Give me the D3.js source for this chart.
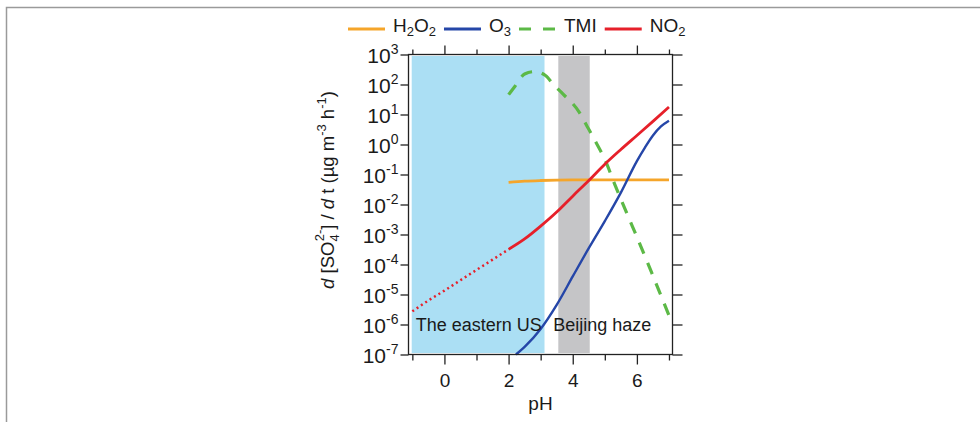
<!DOCTYPE html>
<html>
<head>
<meta charset="utf-8">
<script src="https://cdn.jsdelivr.net/npm/d3@7"></script>
<style>
  body { margin: 0; background: #fff; }
  svg { display: block; font-family: "Liberation Sans", Arial, sans-serif; }
  .axis path { display: none; }
  .axis line { stroke: #222; stroke-width: 1.3; }
</style>
</head>
<body>
<div id="chart"></div>
<script>
// pH values and sulfate production rates (ug m-3 h-1)
var phNO2Dotted = [-1.0, -0.5, 0, 0.5, 1.0, 1.5, 2.0];
var rateNO2Dotted = [2.75e-6, 6.3e-6, 1.35e-5, 3.0e-5, 6.6e-5, 1.45e-4, 3.2e-4];

var phNO2 = [2.0, 2.5, 3.0, 3.5, 4.0, 4.5, 5.0, 5.5, 6.0, 6.5, 7.0];
var rateNO2 = [3.2e-4, 7.1e-4, 1.9e-3, 5.6e-3, 1.9e-2, 6.3e-2, 0.22, 0.68, 2.0, 5.9, 17.8];

var phO3 = [2.23, 2.5, 3.0, 3.5, 4.0, 4.5, 5.0, 5.5, 6.0, 6.25, 6.5, 6.75, 7.0];
var rateO3 = [1.0e-7, 1.8e-7, 7.1e-7, 4.5e-6, 4.0e-5, 3.5e-4, 2.8e-3, 2.5e-2, 0.28, 0.79, 2.0, 4.0, 6.2];

var phH2O2 = [2.0, 2.5, 3.0, 3.5, 4.0, 5.0, 6.0, 7.0];
var rateH2O2 = [0.055, 0.060, 0.063, 0.065, 0.066, 0.066, 0.066, 0.066];

var phTMI = [2.0, 2.2, 2.5, 2.8, 3.15, 3.4, 3.7, 4.2, 4.45, 4.7, 5.0, 5.3, 5.5, 5.75, 6.0, 6.5, 7.0];
var rateTMI = [46, 87, 224, 269, 200, 100, 48, 12, 4.0, 1.32, 0.32, 0.05, 0.015, 3.5e-3, 8.3e-4, 4.2e-5, 2.0e-6];

var legendNames = ["H2O2", "O3", "TMI", "NO2"];
var yExponents = [3, 2, 1, 0, -1, -2, -3, -4, -5, -6, -7];
var xTicks = [-1, 0, 1, 2, 3, 4, 5, 6, 7];
var xLabels = [0, 2, 4, 6];

var regionNames = ["The eastern US", "Beijing haze"];
var regionBands = [[-1.02, 3.12], [3.55, 4.53]];

var W = 980, H = 422;
var plotL = 408.5, plotR = 672.5, plotT = 54.5, plotB = 354.5;

var svg = d3.select("#chart").append("svg")
    .attr("width", W)
    .attr("height", H);

// figure border (top and left edges only)
svg.append("path")
    .attr("d", "M6.5,422 V7.5 H980")
    .attr("fill", "none")
    .attr("stroke", "#9a9a9a")
    .attr("stroke-width", 1.5);

var x = d3.scaleLinear().domain([-1.12, 7.11]).range([plotL, plotR]);
var y = d3.scaleLog().domain([1e-7, 1e3]).range([plotB, plotT]);

// shaded pH regions
var bandColors = ["#abdff4", "#c5c5c7"];
svg.selectAll("rect.band")
    .data(regionBands)
    .enter()
    .append("rect")
    .attr("class", "band")
    .attr("x", d => x(d[0]))
    .attr("width", d => x(d[1]) - x(d[0]))
    .attr("y", plotT + 1.5)
    .attr("height", plotB - plotT - 3)
    .attr("fill", (d, i) => bandColors[i]);

function pairs(px, py) {
    return px.map(function(p, i) { return [p, py[i]]; });
}

var line = d3.line()
    .x(d => x(d[0]))
    .y(d => y(d[1]))
    .curve(d3.curveMonotoneX);

var series = [
    { data: pairs(phH2O2, rateH2O2), color: "#f5a52a", width: 2.8, dash: null },
    { data: pairs(phO3, rateO3), color: "#2546a8", width: 2.4, dash: null },
    { data: pairs(phTMI, rateTMI), color: "#5cb946", width: 3.2, dash: "12,10" },
    { data: pairs(phNO2, rateNO2), color: "#e6202a", width: 2.8, dash: null },
    { data: pairs(phNO2Dotted, rateNO2Dotted), color: "#e6202a", width: 2.5, dash: "2,3.2" }
];

svg.selectAll("path.series")
    .data(series)
    .enter()
    .append("path")
    .attr("class", "series")
    .attr("d", d => line(d.data))
    .attr("fill", "none")
    .attr("stroke", d => d.color)
    .attr("stroke-width", d => d.width)
    .attr("stroke-dasharray", d => d.dash);

// region labels
svg.selectAll("text.region")
    .data(regionNames)
    .enter()
    .append("text")
    .attr("class", "region")
    .attr("x", (d, i) => i === 0 ? x(regionBands[0][0]) + 4 : x(regionBands[1][0]) - 5)
    .attr("y", 331)
    .attr("font-size", 18)
    .attr("fill", "#1a1a1a")
    .text(d => d);

// plot frame
svg.append("rect")
    .attr("x", plotL)
    .attr("y", plotT)
    .attr("width", plotR - plotL)
    .attr("height", plotB - plotT)
    .attr("fill", "none")
    .attr("stroke", "#222")
    .attr("stroke-width", 1.3);

var yVals = yExponents.map(e => Math.pow(10, e));

// left axis with 10^n labels
var yAxis = svg.append("g")
    .attr("class", "axis")
    .attr("transform", "translate(" + plotL + ",0)")
    .call(d3.axisLeft(y).tickValues(yVals).tickSize(8).tickFormat(""));

yAxis.selectAll(".tick text").remove();
yAxis.selectAll(".tick").each(function(d, i) {
    var t = d3.select(this).append("text")
        .attr("x", -10)
        .attr("dy", "0.4em")
        .attr("text-anchor", "end")
        .attr("fill", "#1a1a1a")
        .attr("font-size", 21);
    t.append("tspan").text("10");
    t.append("tspan")
        .attr("font-size", 14)
        .attr("dy", "-0.7em")
        .text(String(yExponents[i]));
});

svg.append("g")
    .attr("class", "axis")
    .attr("transform", "translate(" + plotR + ",0)")
    .call(d3.axisRight(y).tickValues(yVals).tickSize(10).tickFormat(""));

// top and bottom axes: long ticks on even pH, short on odd
var majorX = xTicks.filter(v => v % 2 === 0);
var minorX = xTicks.filter(v => v % 2 !== 0);

svg.append("g").attr("class", "axis")
    .attr("transform", "translate(0," + plotT + ")")
    .call(d3.axisTop(x).tickValues(majorX).tickSize(9).tickFormat(""));
svg.append("g").attr("class", "axis")
    .attr("transform", "translate(0," + plotT + ")")
    .call(d3.axisTop(x).tickValues(minorX).tickSize(5).tickFormat(""));

var xAxis = svg.append("g").attr("class", "axis")
    .attr("transform", "translate(0," + plotB + ")")
    .call(d3.axisBottom(x).tickValues(majorX).tickSize(10)
        .tickFormat(d => xLabels.indexOf(d) >= 0 ? d : ""));
xAxis.selectAll("text")
    .attr("font-size", 19)
    .attr("fill", "#1a1a1a")
    .attr("font-family", "Liberation Sans, Arial, sans-serif")
    .attr("y", 19);
svg.append("g").attr("class", "axis")
    .attr("transform", "translate(0," + plotB + ")")
    .call(d3.axisBottom(x).tickValues(minorX).tickSize(6).tickFormat(""));

svg.append("text")
    .attr("x", (plotL + plotR) / 2)
    .attr("y", 410)
    .attr("text-anchor", "middle")
    .attr("font-size", 19)
    .attr("fill", "#1a1a1a")
    .text("pH");

// y axis title
var yt = svg.append("text")
    .attr("transform", "translate(334,190) rotate(-90)")
    .attr("text-anchor", "middle")
    .attr("font-size", 18.5)
    .attr("fill", "#1a1a1a");
yt.append("tspan").attr("font-style", "italic").text("d");
yt.append("tspan").text(" [SO");
yt.append("tspan").attr("font-size", 13).attr("dy", 5).text("4");
yt.append("tspan").attr("font-size", 13).attr("dx", -7).attr("dy", -15).text("2-");
yt.append("tspan").attr("dy", 10).text("] / ");
yt.append("tspan").attr("font-style", "italic").text("d");
yt.append("tspan").text(" t (\u00b5g m");
yt.append("tspan").attr("font-size", 13).attr("dy", -8).text("-3");
yt.append("tspan").attr("dy", 8).text(" h");
yt.append("tspan").attr("font-size", 13).attr("dy", -8).text("-1");
yt.append("tspan").attr("dy", 8).text(")");

// legend
var legendColors = ["#f5a52a", "#2546a8", "#5cb946", "#e6202a"];
var legendDash = [null, null, "12,12", null];
var lx = 348;
legendNames.forEach(function(name, i) {
    svg.append("line")
        .attr("x1", lx).attr("x2", lx + 37)
        .attr("y1", 29).attr("y2", 29)
        .attr("stroke", legendColors[i])
        .attr("stroke-width", 3)
        .attr("stroke-dasharray", legendDash[i]);
    var t = svg.append("text")
        .attr("x", lx + 45)
        .attr("y", 36)
        .attr("font-size", 19)
        .attr("fill", "#1a1a1a");
    // digits in chemical formulas become subscripts
    name.split(/(\d)/).forEach(function(part) {
        if (part === "") return;
        if (/\d/.test(part)) {
            t.append("tspan").attr("font-size", 13).attr("dy", 4).text(part);
        } else {
            t.append("tspan").attr("dy", t.selectAll("tspan").size() ? -4 : 0).text(part);
        }
    });
    lx = lx + 45 + t.node().getComputedTextLength() + 8;
});
</script>
</body>
</html>
